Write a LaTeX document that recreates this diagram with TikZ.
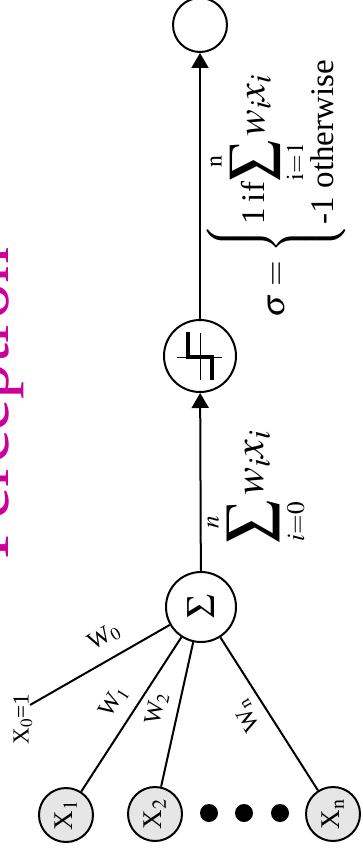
\documentclass[tikz,border=0pt]{standalone}
\usepackage{mathptmx}
\usepackage{fontspec}
\setmainfont{Liberation Serif}
\usetikzlibrary{arrows.meta}
\definecolor{titlemag}{RGB}{204,0,153}
\definecolor{infill}{RGB}{230,230,230}
\tikzset{
  conn/.style={line width=2pt},
  arr/.style={line width=2pt,-{Triangle[width=17pt,length=15pt]}},
  unit/.style={circle,draw,line width=2pt,inner sep=0pt},
  innode/.style={unit,fill=infill,minimum size=54pt},
  dotnode/.style={circle,fill=black,inner sep=0pt,minimum size=18pt},
  wlab/.style={inner sep=0pt,font=\fontsize{24}{28}\selectfont},
  inlab/.style={rotate=90,inner sep=0pt,font=\fontsize{27}{32}\selectfont},
}
\begin{document}
\begin{tikzpicture}[x=1pt,y=-1pt]
\useasboundingbox (0,0) rectangle (362,853);
\clip (0,0) rectangle (362,853);
% title
\node[rotate=90,anchor=base west,inner sep=0pt,text=titlemag,font=\fontsize{72}{80}\selectfont] (title) at (9,560) {Perceptron};
% units
\node[unit,minimum size=54pt] (out) at (200,25) {};
\node[unit,minimum size=72pt] (step) at (200,356) {};
\node[unit,minimum size=70pt,font=\fontsize{40}{44}\selectfont] (sum) at (201,607) {\rotatebox{90}{$\Sigma$}};
% inputs
\node[innode] (x1) at (66,815) {};
\node[innode] (x2) at (155,814) {};
\node[innode] (xn) at (333,814) {};
\node[inlab] (lx1) at (x1) {X$_{\mathrm{1}}$};
\node[inlab] (lx2) at (x2) {X$_{\mathrm{2}}$};
\node[inlab] (lxn) at (xn) {X$_{\mathrm{n}}$};
\node[dotnode] (d1) at (209,813) {};
\node[dotnode] (d2) at (244,813) {};
\node[dotnode] (d3) at (280,813) {};
\coordinate (x0) at (30,705);
% step symbol
\begin{scope}[shift={(step.center)}]
  \draw[line width=1pt] (-23,1) -- (22,1);
  \draw[line width=1pt] (0,-23) -- (0,24);
  \draw[line width=4pt] (-12,-24) -- (-12,1) -- (12,1) -- (12,24);
\end{scope}
% connectors
\draw[conn] (sum) -- (x0);
\draw[conn] (sum) -- (x1);
\draw[conn] (sum) -- (x2);
\draw[conn] (sum) -- (xn);
\draw[arr] (sum) -- (step);
\draw[arr] (step) -- (out);
% weight labels
\node[wlab,rotate=30] (w0) at (104,637) {W$_{\mathrm{0}}$};
\node[wlab,rotate=58] (w1) at (114,702) {W$_{\mathrm{1}}$};
\node[wlab,rotate=78] (w2) at (157,709) {W$_{\mathrm{2}}$};
\node[wlab,rotate=120] (wn) at (247,716) {W$_{\mathrm{n}}$};
\node[rotate=90,inner sep=0pt,font=\fontsize{23}{28}\selectfont] (lx0) at (23,719) {X$_{\mathrm{0}}$=1};
% formulas
\node[rotate=90,inner sep=0pt,font=\fontsize{42}{48}\selectfont] (slab) at (256,487) {$\displaystyle\sum_{\scriptscriptstyle i=0}^{\scriptscriptstyle n} w_i x_i$};
\node[rotate=90,inner sep=0pt,font=\fontsize{33}{40}\selectfont] (sig) at (276,188) {$\sigma=\left\{\begin{array}{@{}l@{}}\mbox{1\,if}\mbox{\fontsize{40}{46}\selectfont$\displaystyle\sum_{\scriptscriptstyle\mathrm{i=1}}^{\scriptscriptstyle\mathrm{n}} w_i x_i$}\\[-2pt] \mbox{-1 otherwise}\end{array}\right.$};
\end{tikzpicture}
\end{document}
